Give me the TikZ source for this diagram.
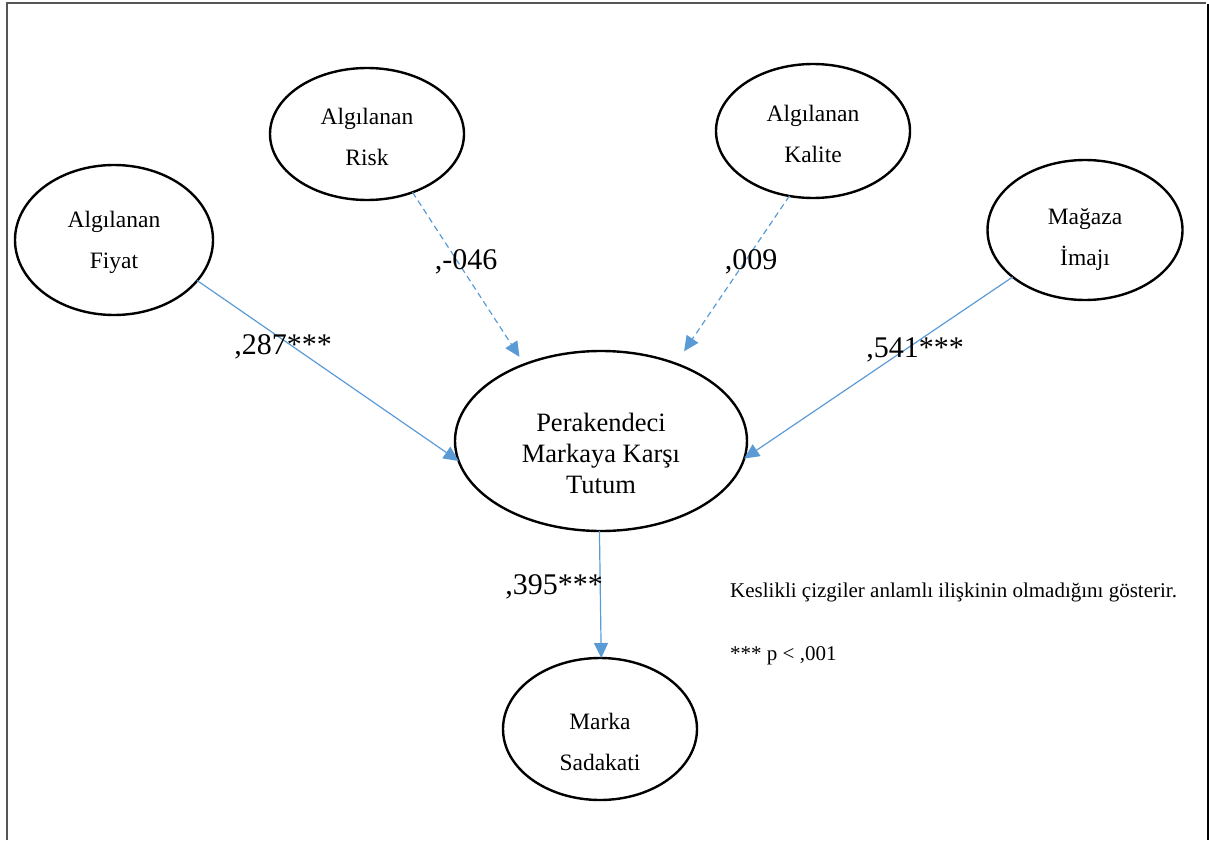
\documentclass[tikz,border=0pt]{standalone}
\usepackage{fontspec}
\setmainfont{Liberation Serif}
\usetikzlibrary{arrows.meta,shapes.geometric}
\definecolor{arrowblue}{HTML}{5B9BD5}
\definecolor{framegray}{HTML}{555555}
\begin{document}
\begin{tikzpicture}[x=1pt,y=-1pt,
  oval/.style={draw=black,line width=2.4pt,ellipse,inner sep=0pt,outer sep=0pt},
  smalltxt/.style={font=\fontsize{23.5}{41}\selectfont,align=center,inner sep=0pt},
  bigtxt/.style={font=\fontsize{26.5}{31}\selectfont,align=center,inner sep=0pt},
  coef/.style={font=\fontsize{30}{32}\selectfont,inner sep=0pt},
  note/.style={font=\fontsize{21}{24}\selectfont,inner sep=0pt,anchor=base west},
  link/.style={draw=arrowblue,line width=1.2pt,-{Triangle[length=15pt,width=14pt]}},
  nslink/.style={link,dash pattern=on 6pt off 4pt}]
\useasboundingbox (0,0) rectangle (1209,840);
% frame
\draw[framegray,line width=1.5pt] (7,840) -- (7,3) -- (1206,3);
\draw[black,line width=1.5pt] (1208,4) -- (1208,840);
% nodes
\node[oval,minimum width=198pt,minimum height=150pt,
  label={[smalltxt,yshift=-2pt]center:Algılanan\\Fiyat}] (fiyat) at (114,240) {};
\node[oval,minimum width=194pt,minimum height=132pt,
  label={[smalltxt,yshift=-3pt]center:Algılanan\\Risk}] (risk) at (367,134) {};
\node[oval,minimum width=194pt,minimum height=134pt,
  label={[smalltxt,yshift=-3pt]center:Algılanan\\Kalite}] (kalite) at (813,131) {};
\node[oval,minimum width=195pt,minimum height=140pt,
  label={[smalltxt,yshift=-9pt]center:Mağaza\\İmajı}] (imaj) at (1085,230) {};
\node[oval,minimum width=292pt,minimum height=180pt,
  label={[bigtxt,yshift=-12pt]center:Perakendeci\\Markaya Karşı\\Tutum}] (tutum) at (601,441) {};
\node[oval,minimum width=194pt,minimum height=142pt,
  label={[smalltxt,yshift=-13pt]center:Marka\\Sadakati}] (sadakat) at (600,729) {};
% connectors
\draw[link] (fiyat.-26.6) -- (tutum.188.5);
\draw[nslink,shorten >=9pt] (risk.-52) -- (tutum.135.2);
\draw[nslink,shorten >=15pt] (kalite.-110.5) -- (tutum.46.5);
\draw[link] (imaj.213.7) -- (tutum.-7);
\draw[link] (tutum.-91) -- (sadakat.89);
% coefficients
\node[coef] (c1) at (283,347) {,287***};
\node[coef] (c2) at (466,262) {,-046};
\node[coef] (c3) at (751,262) {,009};
\node[coef] (c4) at (915,350) {,541***};
\node[coef] (c5) at (554,587) {,395***};
% notes
\node[note] (n1) at (730,597) {Keslikli çizgiler anlamlı ilişkinin olmadığını gösterir.};
\node[note] (n2) at (730,660) {*** p < ,001};
\end{tikzpicture}
\end{document}
